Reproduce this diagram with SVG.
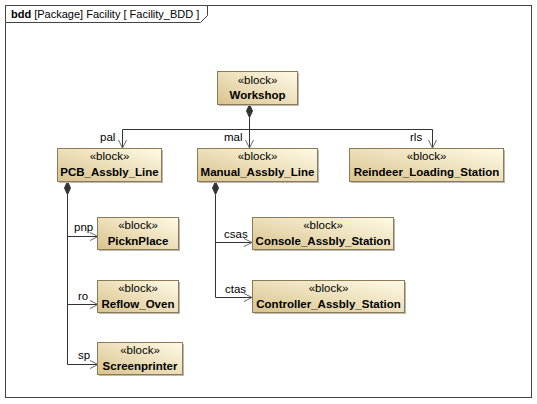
<svg xmlns="http://www.w3.org/2000/svg" width="537" height="404" viewBox="0 0 537 404">
<defs>
<linearGradient id="blk" x1="0" y1="1" x2="1" y2="0">
<stop offset="0" stop-color="#d9c38e"/>
<stop offset="1" stop-color="#fffbe6"/>
</linearGradient>
</defs>
<style>
.frame{fill:none;stroke:#444;stroke-width:1}
.tab{fill:#fff;stroke:#444;stroke-width:1}
.box{fill:url(#blk);stroke:#8f7a56;stroke-width:1}
.shd{fill:#b8b8b8}
.st{font-family:"Liberation Sans",Arial,sans-serif;font-size:11.5px;fill:#000;text-anchor:middle}
.nm{font-family:"Liberation Sans",Arial,sans-serif;font-size:11.5px;font-weight:bold;fill:#000;text-anchor:middle}
.lbl{font-family:"Liberation Sans",Arial,sans-serif;font-size:11.5px;fill:#000}
.ttl{font-family:"Liberation Sans",Arial,sans-serif;font-size:11px;fill:#000}
.ln{fill:none;stroke:#333;stroke-width:1}
.ah{fill:none;stroke:#666;stroke-width:1}
.dm{fill:#333;stroke:#333;stroke-width:1}
</style>
<rect x="0" y="0" width="537" height="404" fill="#fff"/>
<g id="frame">
<rect class="frame" x="5.5" y="5.5" width="526" height="392"/>
<polygon class="tab" points="5.5,5.5 207.5,5.5 207.5,15.5 200.5,22.5 5.5,22.5"/>
<text class="ttl" x="11" y="18"><tspan font-weight="bold">bdd</tspan> [Package] Facility [ Facility_BDD ]</text>
</g>
<g id="connectors">
<polygon class="dm" points="249.5,104.5 252.5,111 249.5,117.5 246.5,111"/>
<polyline class="ln" points="249.5,117.5 249.5,129.5"/>
<polyline class="ln" points="122.5,148 122.5,129.5 432.5,129.5 432.5,148"/>
<polyline class="ln" points="249.5,129.5 249.5,148"/>
<polyline class="ah" points="118.5,140 122.5,148 126.5,140"/>
<polyline class="ah" points="245.5,140 249.5,148 253.5,140"/>
<polyline class="ah" points="428.5,140 432.5,148 436.5,140"/>
<text class="lbl" x="100" y="141">pal</text>
<text class="lbl" x="224" y="141">mal</text>
<text class="lbl" x="410" y="141">rls</text>
<polygon class="dm" points="67.5,181.5 70.5,188 67.5,194.5 64.5,188"/>
<polyline class="ln" points="67.5,194.5 67.5,364.5 98,364.5"/>
<polyline class="ln" points="67.5,236.5 98,236.5"/>
<polyline class="ln" points="67.5,304.5 98,304.5"/>
<polyline class="ah" points="90,232.5 98,236.5 90,240.5"/>
<polyline class="ah" points="90,300.5 98,304.5 90,308.5"/>
<polyline class="ah" points="90,360.5 98,364.5 90,368.5"/>
<text class="lbl" x="74" y="231">pnp</text>
<text class="lbl" x="78" y="300">ro</text>
<text class="lbl" x="78" y="359">sp</text>
<polygon class="dm" points="215.5,181.5 218.5,188 215.5,194.5 212.5,188"/>
<polyline class="ln" points="215.5,194.5 215.5,297.5 252,297.5"/>
<polyline class="ln" points="215.5,242.5 252,242.5"/>
<polyline class="ah" points="244,238.5 252,242.5 244,246.5"/>
<polyline class="ah" points="244,293.5 252,297.5 244,301.5"/>
<text class="lbl" x="224" y="238">csas</text>
<text class="lbl" x="225" y="293">ctas</text>
</g>
<g id="workshop">
<rect class="shd" x="219" y="73" width="80" height="33"/>
<rect class="box" x="217.5" y="71.5" width="80" height="33"/>
<text class="st" x="257.5" y="84">«block»</text>
<text class="nm" x="257.5" y="99">Workshop</text>
</g>
<g id="pcb">
<rect class="shd" x="59" y="150" width="104" height="33"/>
<rect class="box" x="57.5" y="148.5" width="104" height="33"/>
<text class="st" x="109.5" y="160">«block»</text>
<text class="nm" x="109.5" y="176">PCB_Assbly_Line</text>
</g>
<g id="manual">
<rect class="shd" x="199" y="150" width="120" height="33"/>
<rect class="box" x="197.5" y="148.5" width="120" height="33"/>
<text class="st" x="257.5" y="160">«block»</text>
<text class="nm" x="257.5" y="176">Manual_Assbly_Line</text>
</g>
<g id="reindeer">
<rect class="shd" x="351" y="150" width="154" height="33"/>
<rect class="box" x="349.5" y="148.5" width="154" height="33"/>
<text class="st" x="426.5" y="160">«block»</text>
<text class="nm" x="426.5" y="176">Reindeer_Loading_Station</text>
</g>
<g id="picknplace">
<rect class="shd" x="99" y="219" width="81" height="32"/>
<rect class="box" x="97.5" y="217.5" width="81" height="32"/>
<text class="st" x="138" y="229">«block»</text>
<text class="nm" x="138" y="245">PicknPlace</text>
</g>
<g id="reflow">
<rect class="shd" x="99" y="282" width="81" height="32"/>
<rect class="box" x="97.5" y="280.5" width="81" height="32"/>
<text class="st" x="138" y="292">«block»</text>
<text class="nm" x="138" y="308">Reflow_Oven</text>
</g>
<g id="screenprinter">
<rect class="shd" x="99" y="344" width="85" height="32"/>
<rect class="box" x="97.5" y="342.5" width="85" height="32"/>
<text class="st" x="140" y="354">«block»</text>
<text class="nm" x="140" y="370">Screenprinter</text>
</g>
<g id="console">
<rect class="shd" x="254" y="219" width="141" height="32"/>
<rect class="box" x="252.5" y="217.5" width="141" height="32"/>
<text class="st" x="323" y="229">«block»</text>
<text class="nm" x="323" y="245">Console_Assbly_Station</text>
</g>
<g id="controller">
<rect class="shd" x="254" y="282" width="152" height="32"/>
<rect class="box" x="252.5" y="280.5" width="152" height="32"/>
<text class="st" x="328.5" y="292">«block»</text>
<text class="nm" x="328.5" y="308">Controller_Assbly_Station</text>
</g>
</svg>
